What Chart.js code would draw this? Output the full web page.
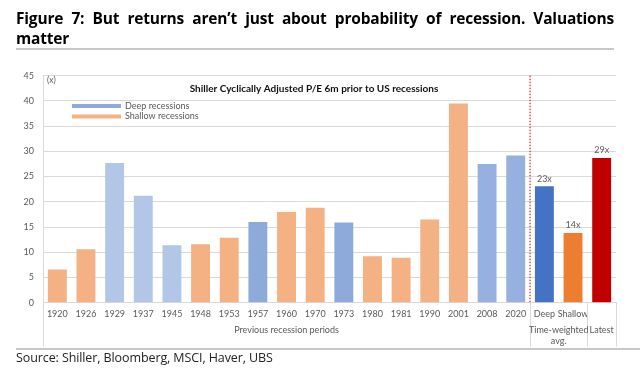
<!DOCTYPE html>
<html><head><meta charset="utf-8">
<script src="https://cdn.jsdelivr.net/npm/chart.js@4/dist/chart.umd.min.js"></script>
<style>
html,body{margin:0;padding:0;background:#fff;width:640px;height:383px;overflow:hidden;}
#title{position:absolute;left:16px;top:8px;width:598px;font:bold 15.5px "Open Sans",sans-serif;line-height:20px;color:#000;text-align:justify;text-align-last:left;letter-spacing:-0.2px;}
#rule1{position:absolute;left:16px;top:48px;width:598px;height:2px;background:#c8c8c8;}
#rule2{position:absolute;left:16px;top:348px;width:625px;height:2px;background:#c8c8c8;}
#source{position:absolute;left:16px;top:349px;font:12.5px "Open Sans",sans-serif;color:#222;letter-spacing:-0.1px;line-height:18px;}
#wrap{position:absolute;left:0;top:0;width:640px;height:383px;}
</style></head>
<body>
<div id="wrap"><canvas id="c"></canvas></div>
<div id="title">Figure 7: But returns aren’t just about probability of recession. Valuations matter</div>
<div id="rule1"></div>
<div id="rule2"></div>
<div id="source">Source: Shiller, Bloomberg, MSCI, Haver, UBS</div>
<script>
const categories = ['1920','1926','1929','1937','1945','1948','1953','1957','1960','1970','1973','1980','1981','1990','2001','2008','2020','Deep','Shallow',''];
const values = [6.6,10.6,27.7,21.2,11.4,11.6,12.9,16.0,18.0,18.8,15.9,9.2,8.9,16.5,39.5,27.5,29.2,23.1,13.8,28.7];
const barTypes = ['shallow','shallow','deepLight','deepLight','deepLight','shallow','shallow','deep','shallow','shallow','deep','shallow','shallow','shallow','shallow','deepMid','deepMid','avgDeep','avgShallow','latest'];
const valueLabels = ['','','','','','','','','','','','','','','','','','23x','14x','29x'];
const groupLabels = [['Previous recession periods'],['Time-weighted','avg.'],['Latest']];
const groupStarts = [0,17,19];
const groupEnds = [16,18,19];
const legendLabels = ['Deep recessions','Shallow recessions'];
const yTicks = [0,5,10,15,20,25,30,35,40,45];
const chartTitle = 'Shiller Cyclically Adjusted P/E 6m prior to US recessions';
const unitLabel = '(x)';

const palette = {shallow:'#f4b183',deepLight:'#b2c6e8',deep:'#8eaadb',deepMid:'#96b0df',avgDeep:'#4472c4',avgShallow:'#ed7d31',latest:'#c00000'};
const legendColors = ['#8eaadb','#f4b183'];
const FONT = 'Lato, "Open Sans", sans-serif';
const GREY = '#595959';

const overlay = {
  id:'overlay',
  afterDatasetsDraw(chart){
    const ctx = chart.ctx, x = chart.scales.x, y = chart.scales.y, ca = chart.chartArea;
    const half = (x.getPixelForValue(1)-x.getPixelForValue(0))/2;
    ctx.save();
    ctx.font = '9px '+FONT; ctx.fillStyle = GREY; ctx.textAlign='center'; ctx.textBaseline='bottom';
    values.forEach((v,i)=>{ if(valueLabels[i]) ctx.fillText(valueLabels[i], x.getPixelForValue(i), y.getPixelForValue(v)-3); });
    const xd = x.getPixelForValue(16)+half;
    ctx.strokeStyle='#c00000'; ctx.lineWidth=1; ctx.setLineDash([1.5,1.5]);
    ctx.beginPath(); ctx.moveTo(xd, y.getPixelForValue(45)); ctx.lineTo(xd, ca.bottom); ctx.stroke();
    ctx.setLineDash([]);
    ctx.strokeStyle='#d9d9d9';
    const seps = [x.getPixelForValue(0)-half, xd, x.getPixelForValue(18)+half, x.getPixelForValue(19)+half];
    seps.forEach(sx=>{ ctx.beginPath(); ctx.moveTo(Math.round(sx)+0.5, ca.bottom); ctx.lineTo(Math.round(sx)+0.5, ca.bottom+44); ctx.stroke(); });
    ctx.fillStyle=GREY; ctx.font='9px '+FONT; ctx.textBaseline='middle';
    groupLabels.forEach((lines,g)=>{
      const cx = (x.getPixelForValue(groupStarts[g])+x.getPixelForValue(groupEnds[g]))/2;
      lines.forEach((t,j)=>ctx.fillText(t, cx, ca.bottom+27+j*11));
    });
    ctx.font='bold 10px '+FONT; ctx.fillStyle='#111'; ctx.textAlign='center';
    ctx.fillText(chartTitle, 314, 89);
    ctx.font='8.5px '+FONT; ctx.fillStyle=GREY; ctx.textAlign='left';
    ctx.fillText(unitLabel, 47, 80);
    ctx.font='9px '+FONT;
    legendLabels.forEach((t,i)=>{
      const ly = 106+i*10.5;
      ctx.fillStyle=legendColors[i]; ctx.fillRect(72, ly-2, 49, 4);
      ctx.fillStyle=GREY; ctx.fillText(t, 125, ly);
    });
    ctx.restore();
  }
};

new Chart(document.getElementById('c'),{
  type:'bar',
  data:{labels:categories,datasets:[{data:values,backgroundColor:barTypes.map(t=>palette[t]),categoryPercentage:1,barPercentage:0.66}]},
  options:{
    responsive:true, maintainAspectRatio:false, animation:false,
    layout:{padding:{top:75.7,left:0,right:24,bottom:0}},
    plugins:{legend:{display:false},tooltip:{enabled:false}},
    scales:{
      y:{min:0,max:45,
        afterBuildTicks(s){s.ticks=yTicks.map(v=>({value:v}));},
        afterFit(s){s.width=43;},
        grid:{color:'#d9d9d9',drawTicks:false},
        border:{display:true,color:'#d9d9d9'},
        ticks:{font:{family:FONT,size:9},color:GREY,padding:9}},
      x:{
        afterFit(s){s.height=80.3;},
        grid:{display:false,drawTicks:false},
        border:{display:true,color:'#d9d9d9'},
        ticks:{font:{family:FONT,size:9},color:GREY,padding:6,maxRotation:0,autoSkip:false}}
    }
  },
  plugins:[overlay]
});
</script>
</body></html>
